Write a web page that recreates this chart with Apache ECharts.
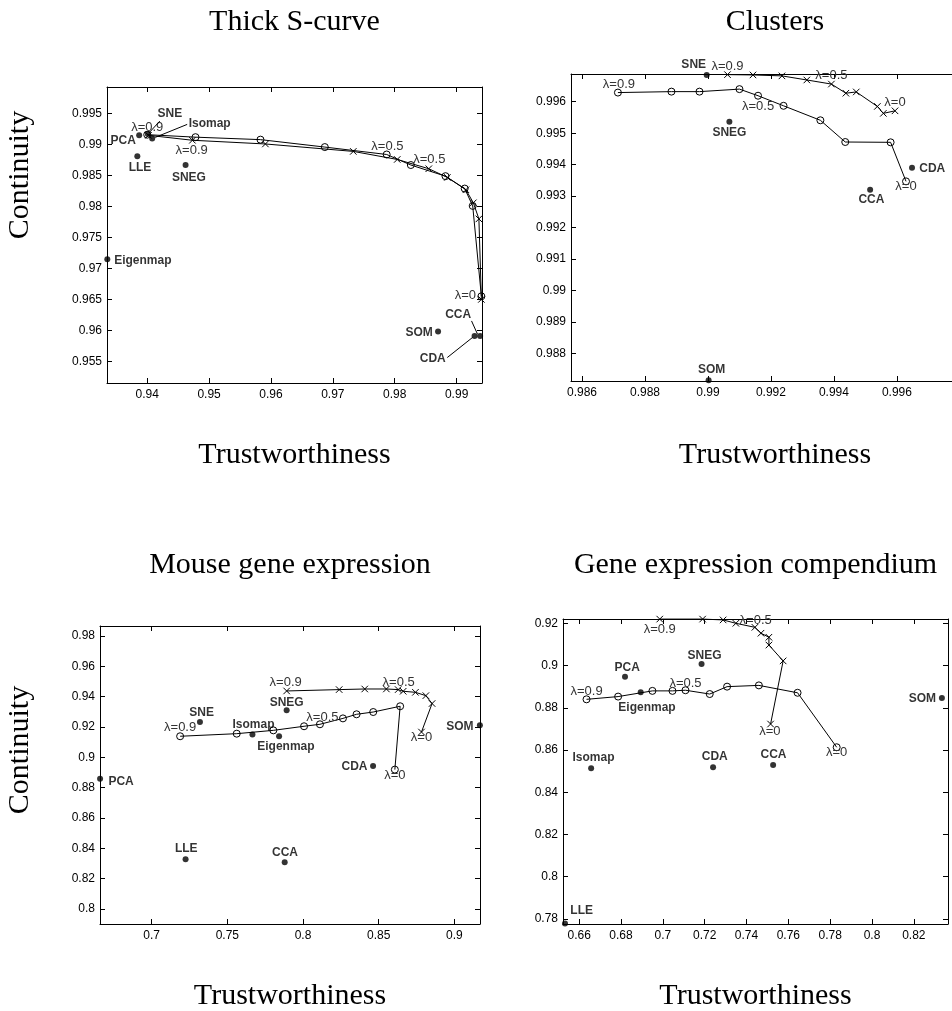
<!DOCTYPE html>
<html><head><meta charset="utf-8">
<script src="https://cdn.jsdelivr.net/npm/echarts@6/dist/echarts.min.js"></script>
<style>html,body{margin:0;padding:0;background:#fff}#c{width:952px;height:1011px}</style>
</head><body><div id="c"></div>
<script>
// ---------------- DATA ----------------
const xAxisName = 'Trustworthiness';
const yAxisName = 'Continuity';
const lambdas10 = [0.9, 0.8, 0.7, 0.6, 0.5, 0.4, 0.3, 0.2, 0.1, 0];
const lambdas11 = [1, 0.9, 0.8, 0.7, 0.6, 0.5, 0.4, 0.3, 0.2, 0.1, 0];

// Panel 1: Thick S-curve
const p1Title = 'Thick S-curve';
const p1Methods = ['PCA', 'SNE', 'Isomap', 'LLE', 'SNEG', 'Eigenmap', 'SOM', 'CCA', 'CDA'];
const p1Trust = [0.9387, 0.9401, 0.9408, 0.9384, 0.9462, 0.93355, 0.9870, 0.9938, 0.9929];
const p1Cont  = [0.9915, 0.9917, 0.9910, 0.9881, 0.9867, 0.9715, 0.9598, 0.9591, 0.9591];
const p1CircTrust = [0.9400, 0.9478, 0.9583, 0.9687, 0.9787, 0.9826, 0.9882, 0.9913, 0.9926, 0.9940];
const p1CircCont  = [0.9916, 0.9912, 0.9908, 0.9896, 0.9884, 0.9867, 0.9849, 0.9829, 0.9801, 0.9655];
const p1CrossTrust = [0.9402, 0.9473, 0.9591, 0.9733, 0.9804, 0.9855, 0.9885, 0.9915, 0.9927, 0.9936, 0.9940];
const p1CrossCont  = [0.9915, 0.9907, 0.9901, 0.9889, 0.9876, 0.9861, 0.9847, 0.9827, 0.9806, 0.9780, 0.9650];
const p1XRange = [0.9335, 0.9941], p1XStep = 0.01;
const p1YRange = [0.9515, 0.9993], p1YStep = 0.005;

// Panel 2: Clusters
const p2Title = 'Clusters';
const p2Methods = ['SNE', 'SNEG', 'CDA', 'CCA', 'SOM'];
const p2Trust = [0.98996, 0.99068, 0.99648, 0.99515, 0.99002];
const p2Cont  = [0.99685, 0.99536, 0.99390, 0.99320, 0.98715];
const p2CircTrust = [0.98714, 0.98884, 0.98973, 0.99100, 0.99159, 0.99240, 0.99357, 0.99436, 0.99580, 0.99629];
const p2CircCont  = [0.99629, 0.99632, 0.99632, 0.99640, 0.99619, 0.99587, 0.99541, 0.99472, 0.99471, 0.99347];
const p2CrossTrust = [0.99062, 0.99143, 0.99235, 0.99314, 0.99392, 0.99438, 0.99471, 0.99538, 0.99557, 0.99594];
const p2CrossCont  = [0.99686, 0.99685, 0.99682, 0.99669, 0.99656, 0.99627, 0.99631, 0.99585, 0.99563, 0.99571];
const p2XRange = [0.98565, 0.99775], p2XStep = 0.002;
const p2YRange = [0.98713, 0.99688], p2YStep = 0.001;

// Panel 3: Mouse gene expression
const p3Title = 'Mouse gene expression';
const p3Methods = ['SNE', 'SNEG', 'Isomap', 'Eigenmap', 'CDA', 'PCA', 'LLE', 'CCA', 'SOM'];
const p3Trust = [0.7319, 0.7892, 0.7666, 0.7842, 0.8463, 0.6659, 0.7224, 0.7879, 0.9169];
const p3Cont  = [0.9233, 0.9310, 0.9150, 0.9139, 0.8943, 0.8859, 0.8327, 0.8307, 0.9211];
const p3CircTrust = [0.7188, 0.7562, 0.7804, 0.8007, 0.8112, 0.8264, 0.8354, 0.8464, 0.8642, 0.8607];
const p3CircCont  = [0.9139, 0.9156, 0.9178, 0.9205, 0.9218, 0.9257, 0.9284, 0.9299, 0.9337, 0.8919];
const p3CrossTrust = [0.7892, 0.8239, 0.8408, 0.8551, 0.8629, 0.8662, 0.8743, 0.8812, 0.8853, 0.8783];
const p3CrossCont  = [0.9438, 0.9447, 0.9451, 0.9451, 0.9447, 0.9436, 0.9429, 0.9407, 0.9355, 0.9167];
const p3XRange = [0.66585, 0.91697], p3XStep = 0.05;
const p3YRange = [0.79, 0.98667], p3YStep = 0.02;

// Panel 4: Gene expression compendium
const p4Title = 'Gene expression compendium';
const p4Methods = ['PCA', 'SNEG', 'Eigenmap', 'Isomap', 'CDA', 'CCA', 'SOM', 'LLE'];
const p4Trust = [0.6819, 0.7185, 0.6894, 0.6657, 0.7240, 0.7527, 0.8334, 0.6532];
const p4Cont  = [0.8947, 0.9007, 0.8873, 0.8514, 0.8518, 0.8529, 0.8846, 0.7778];
const p4CircTrust = [0.6635, 0.6786, 0.6950, 0.7046, 0.7108, 0.7224, 0.7307, 0.7459, 0.7644, 0.7831];
const p4CircCont  = [0.8840, 0.8853, 0.8880, 0.8880, 0.8883, 0.8865, 0.8900, 0.8906, 0.8871, 0.8613];
const p4CrossTrust = [0.6985, 0.7190, 0.7288, 0.7349, 0.7440, 0.7469, 0.7507, 0.7507, 0.7575, 0.7515];
const p4CrossCont  = [0.9220, 0.9220, 0.9216, 0.9200, 0.9181, 0.9153, 0.9134, 0.9097, 0.9022, 0.8723];
const p4XRange = [0.65225, 0.83632], p4XStep = 0.02;
const p4YRange = [0.7776, 0.92204], p4YStep = 0.02;

// ---------------- LAYOUT / STYLE ----------------
const SANS = '"Liberation Sans", Arial, Helvetica, sans-serif';
const SERIF = '"Liberation Serif", "Times New Roman", serif';
const CROSS = 'path://M0,0L10,10M10,0L0,10';

const panels = [
  {title: p1Title, m: p1Methods, t: p1Trust, c: p1Cont, oT: p1CircTrust, oC: p1CircCont, oL: lambdas10, xT: p1CrossTrust, xC: p1CrossCont, xL: lambdas11, xr: p1XRange, xs: p1XStep, yr: p1YRange, ys: p1YStep},
  {title: p2Title, m: p2Methods, t: p2Trust, c: p2Cont, oT: p2CircTrust, oC: p2CircCont, oL: lambdas10, xT: p2CrossTrust, xC: p2CrossCont, xL: lambdas10, xr: p2XRange, xs: p2XStep, yr: p2YRange, ys: p2YStep},
  {title: p3Title, m: p3Methods, t: p3Trust, c: p3Cont, oT: p3CircTrust, oC: p3CircCont, oL: lambdas10, xT: p3CrossTrust, xC: p3CrossCont, xL: lambdas10, xr: p3XRange, xs: p3XStep, yr: p3YRange, ys: p3YStep},
  {title: p4Title, m: p4Methods, t: p4Trust, c: p4Cont, oT: p4CircTrust, oC: p4CircCont, oL: lambdas10, xT: p4CrossTrust, xC: p4CrossCont, xL: lambdas10, xr: p4XRange, xs: p4XStep, yr: p4YRange, ys: p4YStep}
];

const layout = [
  {grid: {left: 107, top: 87, width: 375, height: 296}, rightAxis: true, title: [294.5, 22], xName: [294.5, 455], yName: [20, 175]},
  {grid: {left: 571, top: 74, width: 381, height: 307}, rightAxis: false, title: [775, 22], xName: [775, 455], yName: null},
  {grid: {left: 100, top: 626, width: 380, height: 298}, rightAxis: true, title: [290, 565], xName: [290, 996], yName: [20, 750]},
  {grid: {left: 563, top: 619, width: 385, height: 305}, rightAxis: true, title: [755.5, 565], xName: [755.5, 996], yName: null}
];

// label centre offsets (px) from each method's dot
const dotLabel = [
  {PCA: [-16, 5], SNE: [22, -20], Isomap: [57.5, -14.7], LLE: [2.7, 11.4], SNEG: [3.3, 12.3], Eigenmap: [35.5, 2], SOM: [-19, 0.6], CCA: [-22, -21.7], CDA: [-41.8, 22.6]},
  {SNE: [-13, -10], SNEG: [0, 10.7], CDA: [20.2, 0.6], CCA: [1.3, 10], SOM: [3, -10.3]},
  {SNE: [1.7, -9], SNEG: [0, -8], Isomap: [1, -10.3], Eigenmap: [6.8, 10.7], CDA: [-18.6, 1], PCA: [21, 2.7], LLE: [0.7, -10.7], CCA: [0.3, -9.3], SOM: [-20, 1.7]},
  {PCA: [2.2, -9], SNEG: [3, -8], Eigenmap: [6.3, 15.4], Isomap: [2.4, -10.5], CDA: [1.7, -10.5], CCA: [0.4, -10], SOM: [-19.5, 1], LLE: [16.7, -12.6]}
];
// lambda labels: [curve, pointIndex, dx, dy]
const lamLabel = [
  [['o', 0, 0, -7], ['x', 1, -0.7, 10], ['o', 4, 0.7, -8], ['x', 5, 0.5, -9], ['o', 9, -16, -1]],
  [['o', 0, 1, -8.4], ['x', 0, 0, -8], ['x', 4, 0, -9], ['o', 4, 0, 10.3], ['x', 9, 0, -8.4], ['o', 9, 0, 5.4]],
  [['x', 0, -1, -9], ['x', 4, 0.5, -7.6], ['o', 4, 2.5, -7.3], ['o', 0, 0, -8.7], ['x', 9, 0, 5], ['o', 9, 0, 5.7]],
  [['x', 0, 0, 10.3], ['x', 4, 0.8, -7.3], ['o', 4, 0, -7], ['o', 0, 0, -7.6], ['x', 9, -0.7, 7.7], ['o', 9, 0, 5.4]]
];
// leader lines: [panel, method, from(dx,dy), to(dx,dy)]
const leaders = [
  [0, 'SNE', [1, -1], [12, -13]],
  [0, 'Isomap', [3, -1], [35, -14]],
  [0, 'CCA', [-2.6, -1.7], [-8.6, -15]],
  [0, 'CDA', [-2, 1.5], [-27.3, 21.6]]
];

// ---------------- BUILD ----------------
function axisPair(i, dim, range, step, showOther) {
  const common = {
    type: 'value', gridIndex: i, min: range[0], max: range[1],
    minInterval: step, maxInterval: step, splitNumber: 20,
    axisLine: {show: true, onZero: false, lineStyle: {color: '#000', width: 1}},
    axisTick: {show: true, inside: true, length: 5, lineStyle: {color: '#000', width: 1}},
    splitLine: {show: false}, minorTick: {show: false}, silent: true
  };
  const main = Object.assign({}, common, {
    position: dim === 'x' ? 'bottom' : 'left',
    axisLabel: {show: true, color: '#000', fontSize: 12, fontFamily: SANS, margin: dim === 'x' ? 6 : 5,
      showMinLabel: false, showMaxLabel: false}
  });
  const other = Object.assign({}, common, {position: dim === 'x' ? 'top' : 'right', axisLabel: {show: false}, show: showOther});
  return [main, other];
}

const grid = [], xAxis = [], yAxis = [], series = [];
panels.forEach((p, i) => {
  grid.push(Object.assign({containLabel: false}, layout[i].grid));
  xAxis.push(...axisPair(i, 'x', p.xr, p.xs, true));
  yAxis.push(...axisPair(i, 'y', p.yr, p.ys, layout[i].rightAxis));
  const mk = (kind, T, C, L) => ({
    type: 'line', xAxisIndex: 2 * i, yAxisIndex: 2 * i, z: 2, silent: true,
    symbol: kind === 'o' ? 'circle' : CROSS, symbolSize: kind === 'o' ? 7 : 6.5,
    showSymbol: true, showAllSymbol: true, clip: false,
    lineStyle: {color: '#000', width: 1},
    itemStyle: {color: 'rgba(0,0,0,0)', borderColor: '#000', borderWidth: 1},
    emphasis: {disabled: true},
    data: T.map((t, k) => {
      const item = {value: [t, C[k]]};
      const l = lamLabel[i].find(e => e[0] === kind && e[1] === k);
      if (l) item.label = {show: true, formatter: 'λ=' + L[k], position: 'inside', offset: [l[2], l[3]],
        color: '#333', fontSize: 13, fontFamily: SANS, textBorderWidth: 0};
      return item;
    })
  });
  series.push(mk('o', p.oT, p.oC, p.oL));
  series.push(mk('x', p.xT, p.xC, p.xL));
  series.push({
    type: 'scatter', xAxisIndex: 2 * i, yAxisIndex: 2 * i, z: 3, silent: true, clip: false,
    symbol: 'circle', symbolSize: 6, itemStyle: {color: '#000'}, emphasis: {disabled: true},
    data: p.m.map((m, k) => ({
      name: m, value: [p.t[k], p.c[k]],
      label: {show: true, formatter: m, position: 'inside', offset: dotLabel[i][m], color: '#000',
        fontWeight: 'bold', fontSize: 12, fontFamily: SANS, textBorderWidth: 0}
    }))
  });
});

const chart = echarts.init(document.getElementById('c'), null, {renderer: 'canvas', width: 952, height: 1011});
chart.setOption({animation: false, backgroundColor: '#fff', grid, xAxis, yAxis, series});

const graphic = [];
const txt = (s, pos, rot) => ({
  type: 'text', x: pos[0], y: pos[1], rotation: rot || 0, silent: true,
  style: {text: s, font: '30px ' + SERIF, fill: '#000', textAlign: 'center', textVerticalAlign: 'middle', align: 'center', verticalAlign: 'middle'}
});
panels.forEach((p, i) => {
  const L = layout[i];
  graphic.push(txt(p.title, L.title));
  graphic.push(txt(xAxisName, L.xName));
  if (L.yName) graphic.push(txt(yAxisName, L.yName, Math.PI / 2));
});
leaders.forEach(([pi, m, a, b]) => {
  const p = panels[pi];
  const k = p.m.indexOf(m);
  const px = chart.convertToPixel({xAxisIndex: 2 * pi, yAxisIndex: 2 * pi}, [p.t[k], p.c[k]]);
  graphic.push({type: 'line', silent: true, z: 10,
    shape: {x1: px[0] + a[0], y1: px[1] + a[1], x2: px[0] + b[0], y2: px[1] + b[1]},
    style: {stroke: '#000', lineWidth: 1}});
});
chart.setOption({graphic});
</script>
</body></html>
